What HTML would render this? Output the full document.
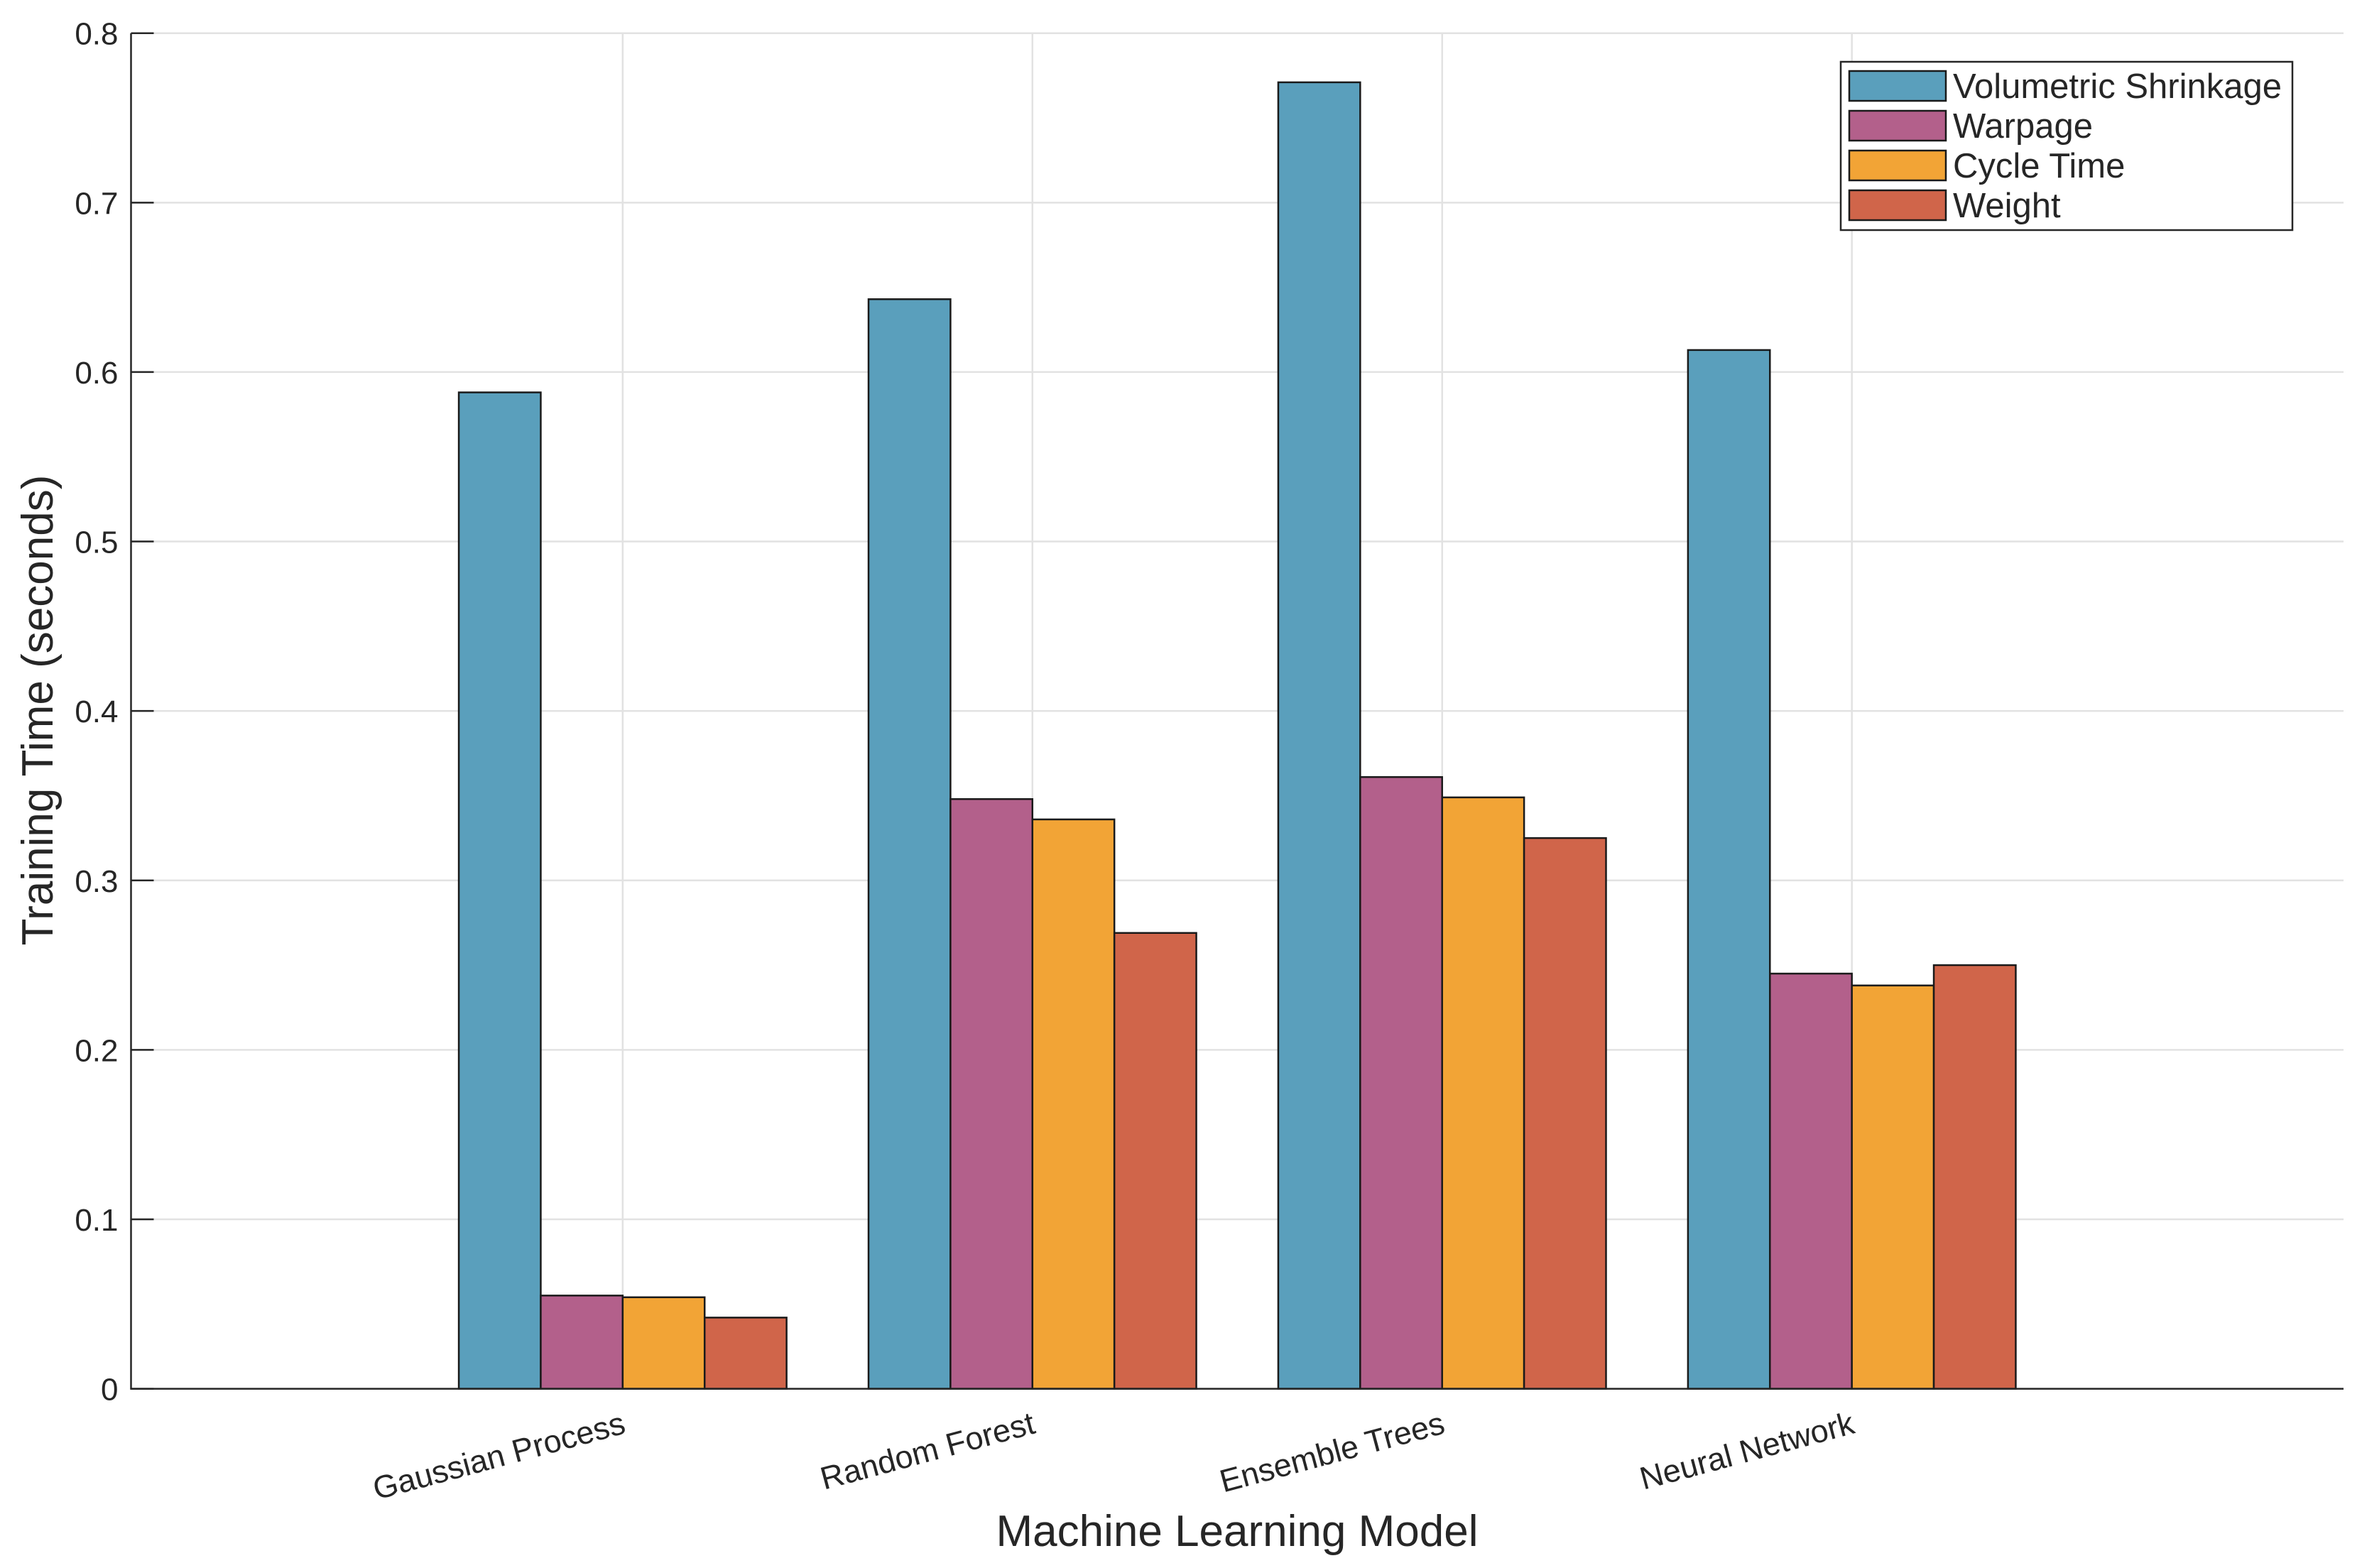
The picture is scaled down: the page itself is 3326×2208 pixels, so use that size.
<!DOCTYPE html>
<html><head><meta charset="utf-8"><style>
html,body{margin:0;padding:0;background:#fff;}
svg{display:block;font-family:"Liberation Sans",Arial,sans-serif;}
</style></head><body>
<svg id="chart" width="3326" height="2208" viewBox="0 0 3326 2208">
<g id="grid"></g>
<g id="bars"></g>
<g id="axes"></g>
<g id="legend"></g>
<text x="1742" y="2177" font-size="62" text-anchor="middle" fill="#262626">Machine Learning Model</text>
<text transform="translate(74,1000) rotate(-90)" font-size="62" text-anchor="middle" fill="#262626">Training Time (seconds)</text>
</svg>
<script>
const categories = ["Gaussian Process","Random Forest","Ensemble Trees","Neural Network"];
const seriesNames = ["Volumetric Shrinkage","Warpage","Cycle Time","Weight"];
const shrinkage = [0.588,0.643,0.771,0.613];
const warpage = [0.055,0.348,0.361,0.245];
const cycleTime = [0.054,0.336,0.349,0.238];
const weight = [0.042,0.269,0.325,0.250];
const yTicks = [0,0.1,0.2,0.3,0.4,0.5,0.6,0.7,0.8];
const yTickLabels = ["0","0.1","0.2","0.3","0.4","0.5","0.6","0.7","0.8"];

const series = [shrinkage, warpage, cycleTime, weight];
const colors = ["#5a9fbc","#b3608b","#f2a436","#d0654a"];
const NS = "http://www.w3.org/2000/svg";
const L = 184.5, R = 3300, T = 46.7, B = 1955.6;
const xMin = -0.2, xMax = 5.2, yMax = 0.8;
const xs = v => L + (v - xMin) / (xMax - xMin) * (R - L);
const ys = v => B - v / yMax * (B - T);
function mk(tag, attrs, parent){const e=document.createElementNS(NS,tag);for(const k in attrs)e.setAttribute(k,attrs[k]);parent.appendChild(e);return e;}
const grid=document.getElementById('grid'), bars=document.getElementById('bars'), axes=document.getElementById('axes'), legend=document.getElementById('legend');

yTicks.forEach((t,i)=>{
  const y=ys(t);
  if(t>0){const g=mk('line',{x1:L,x2:R,y1:y,y2:y,stroke:'#e2e2e2','stroke-width':2.5},grid);
  
  }
  const tk=mk('line',{x1:L,x2:L+32,y1:y,y2:y,stroke:'#262626','stroke-width':2.5},axes);
  
  
  const lb=mk('text',{x:L-18,y:y+16,'font-size':44,'text-anchor':'end',fill:'#262626'},axes);
  lb.textContent=yTickLabels[i];
  
  
});
categories.forEach((c,i)=>{
  const x=xs(i+1);
  const g=mk('line',{x1:x,x2:x,y1:T,y2:B,stroke:'#e2e2e2','stroke-width':2.5},grid);
  
  
  const lb=mk('text',{transform:`translate(${x+6},${B+62}) rotate(-15)`,'font-size':45,'text-anchor':'end',fill:'#262626'},axes);
  lb.textContent=c;
  
  
});
series.forEach((vals,s)=>{
  vals.forEach((v,i)=>{
    const x0=xs(i+1-0.4+0.2*s), x1=xs(i+1-0.4+0.2*(s+1));
    const r=mk('rect',{x:x0,y:ys(v),width:x1-x0,height:B-ys(v),fill:colors[s],stroke:'#1a1a1a','stroke-width':2.5},bars);
    
    
  });
});
const ax=mk('path',{d:`M${L},${T} L${L},${B} L${R},${B}`,fill:'none',stroke:'#262626','stroke-width':2.5},axes);



const box=mk('rect',{x:2592,y:87,width:636,height:237,fill:'#fff',stroke:'#262626','stroke-width':2.5},legend);


seriesNames.forEach((n,s)=>{
  const y=100+56*s;
  const sw=mk('rect',{x:2604,y:y,width:136,height:42,fill:colors[s],stroke:'#1a1a1a','stroke-width':2.5},legend);
  
  
  const t=mk('text',{x:2750,y:y+38,'font-size':49,fill:'#262626'},legend);
  t.textContent=n;
  
  
});
</script>
</body></html>
